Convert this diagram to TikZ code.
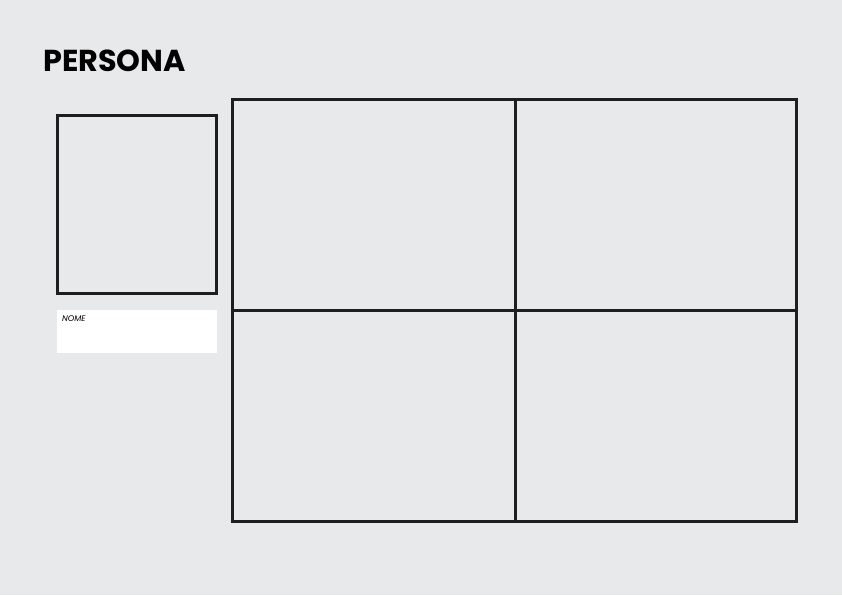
\documentclass[tikz,border=0pt]{standalone}
\usepackage{fontspec}
\setmainfont{Poppins}
\definecolor{bg}{RGB}{232,233,235}
\definecolor{ink}{RGB}{30,30,30}
\begin{document}
\begin{tikzpicture}[x=1pt,y=-1pt,
  frame/.style={draw=ink,line width=3.2pt,inner sep=0pt,outer sep=0pt,anchor=north west},
  namebox/.style={fill=white,draw=none,inner sep=0pt,outer sep=0pt,anchor=north west}]
\fill[bg] (0,0) rectangle (842,595);
\useasboundingbox (0,0) rectangle (842,595);
\node[anchor=base west,inner sep=0pt,font=\bfseries\fontsize{30.3}{32}\selectfont] (title) at (43,71.5) {PERSONA};
\node[frame,minimum width=159pt,minimum height=178pt] (photo) at (57.5,115.5) {};
\node[namebox,minimum width=160pt,minimum height=43pt] (name) at (57,310) {};
\node[anchor=north west,inner sep=0pt,font=\itshape\fontsize{8.2}{9}\selectfont] (nomelbl) at (62,315.5) {NOME};
\node[frame,minimum width=283pt,minimum height=211pt] (q1) at (232.5,99.5) {};
\node[frame,minimum width=281pt,minimum height=211pt] (q2) at (515.5,99.5) {};
\node[frame,minimum width=283pt,minimum height=211pt] (q3) at (232.5,310.5) {};
\node[frame,minimum width=281pt,minimum height=211pt] (q4) at (515.5,310.5) {};
\end{tikzpicture}
\end{document}
